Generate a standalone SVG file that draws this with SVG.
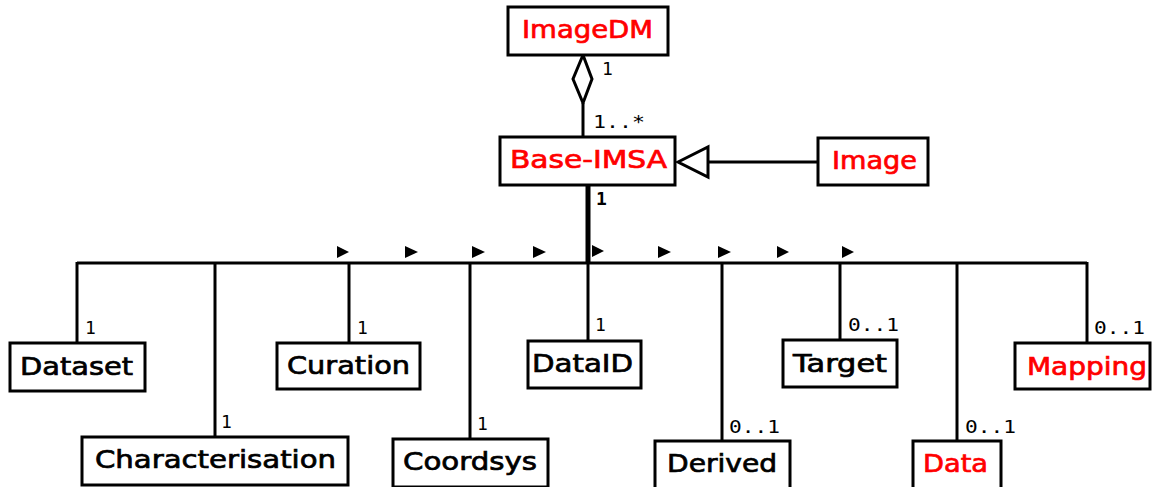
<svg xmlns="http://www.w3.org/2000/svg" width="1156" height="487" viewBox="0 0 1156 487">
<style>
.box{fill:#fff;stroke:#000;stroke-width:3}
.t{font-family:"DejaVu Sans",sans-serif;font-size:24.5px;text-anchor:middle;fill:#000;stroke:#000;stroke-width:0.7px}
.r{fill:#f00;stroke:#f00}
.m{font-family:"DejaVu Sans Mono",monospace;font-size:18px;fill:#000}
.ln{fill:none;stroke:#000;stroke-width:3}
.ah{fill:#000}
</style>
<rect width="1156" height="487" fill="#fff"/>
<g id="connectors">
  <line class="ln" x1="583" y1="103" x2="583" y2="137"/>
  <polygon points="583,55 592,79 583,103 573,79" fill="#fff" stroke="#000" stroke-width="3"/>
  <line class="ln" x1="708" y1="162" x2="818" y2="162"/>
  <polygon points="678,162 708,147 708,177" fill="#fff" stroke="#000" stroke-width="3"/>
  <line x1="588" y1="185" x2="588" y2="264" stroke="#000" stroke-width="5"/>
  <line class="ln" x1="77" y1="263" x2="1087" y2="263"/>
  <polyline class="ln" points="77,262 77,343"/>
  <line class="ln" x1="215" y1="263" x2="215" y2="437"/>
  <line class="ln" x1="349" y1="263" x2="349" y2="343"/>
  <line class="ln" x1="470" y1="263" x2="470" y2="439"/>
  <line class="ln" x1="588" y1="263" x2="588" y2="341"/>
  <line class="ln" x1="722" y1="263" x2="722" y2="441"/>
  <line class="ln" x1="840" y1="263" x2="840" y2="340"/>
  <line class="ln" x1="957" y1="263" x2="957" y2="441"/>
  <polyline class="ln" points="1087,262 1087,343"/>
  <polygon class="ah" points="337,246 349,252 337,258"/>
  <polygon class="ah" points="405,246 418,252 405,258"/>
  <polygon class="ah" points="472,246 485,252 472,258"/>
  <polygon class="ah" points="533,246 546,252 533,258"/>
  <polygon class="ah" points="592,245 604,251 592,257"/>
  <polygon class="ah" points="658,246 671,252 658,258"/>
  <polygon class="ah" points="718,246 731,252 718,258"/>
  <polygon class="ah" points="777,246 789,252 777,258"/>
  <polygon class="ah" points="842,246 854,252 842,258"/>
  <text class="m" x="602" y="75">1</text>
  <text class="m" x="593" y="128" textLength="52" lengthAdjust="spacingAndGlyphs">1..*</text>
  <text class="m" x="596" y="205" font-weight="bold">1</text>
  <text class="m" x="85" y="334">1</text>
  <text class="m" x="221" y="428">1</text>
  <text class="m" x="357" y="334">1</text>
  <text class="m" x="477" y="430">1</text>
  <text class="m" x="595" y="331">1</text>
  <text class="m" x="729" y="433" textLength="51" lengthAdjust="spacingAndGlyphs">0..1</text>
  <text class="m" x="848" y="331" textLength="51" lengthAdjust="spacingAndGlyphs">0..1</text>
  <text class="m" x="965" y="433" textLength="51" lengthAdjust="spacingAndGlyphs">0..1</text>
  <text class="m" x="1094" y="334" textLength="51" lengthAdjust="spacingAndGlyphs">0..1</text>
</g>
<g id="ImageDM"><rect class="box" x="508" y="7" width="160" height="48"/><text class="t r" x="587.5" y="38" textLength="131" lengthAdjust="spacingAndGlyphs">ImageDM</text></g>
<g id="Base-IMSA"><rect class="box" x="500" y="137" width="175" height="48"/><text class="t r" x="588.5" y="168" textLength="157" lengthAdjust="spacingAndGlyphs">Base-IMSA</text></g>
<g id="Image"><rect class="box" x="818" y="138" width="110" height="47"/><text class="t r" x="874.5" y="169" textLength="85" lengthAdjust="spacingAndGlyphs">Image</text></g>
<g id="Dataset"><rect class="box" x="10" y="343" width="135" height="48"/><text class="t" x="76.5" y="375" textLength="113" lengthAdjust="spacingAndGlyphs">Dataset</text></g>
<g id="Curation"><rect class="box" x="277" y="343" width="143" height="46"/><text class="t" x="348.5" y="374" textLength="123" lengthAdjust="spacingAndGlyphs">Curation</text></g>
<g id="Characterisation"><rect class="box" x="82" y="437" width="266" height="48"/><text class="t" x="215.5" y="468" textLength="241" lengthAdjust="spacingAndGlyphs">Characterisation</text></g>
<g id="Coordsys"><rect class="box" x="393" y="439" width="155" height="48"/><text class="t" x="470" y="470" textLength="134" lengthAdjust="spacingAndGlyphs">Coordsys</text></g>
<g id="DataID"><rect class="box" x="528" y="341" width="113" height="47"/><text class="t" x="582.5" y="372" textLength="101" lengthAdjust="spacingAndGlyphs">DataID</text></g>
<g id="Target"><rect class="box" x="783" y="340" width="114" height="47"/><text class="t" x="840" y="372" textLength="94" lengthAdjust="spacingAndGlyphs">Target</text></g>
<g id="Mapping"><rect class="box" x="1015" y="343" width="135" height="46"/><text class="t r" x="1087" y="375" textLength="120" lengthAdjust="spacingAndGlyphs">Mapping</text></g>
<g id="Derived"><rect class="box" x="655" y="441" width="135" height="48"/><text class="t" x="722" y="472" textLength="110" lengthAdjust="spacingAndGlyphs">Derived</text></g>
<g id="Data"><rect class="box" x="913" y="441" width="88" height="48"/><text class="t r" x="955.5" y="472" textLength="65" lengthAdjust="spacingAndGlyphs">Data</text></g>
</svg>
